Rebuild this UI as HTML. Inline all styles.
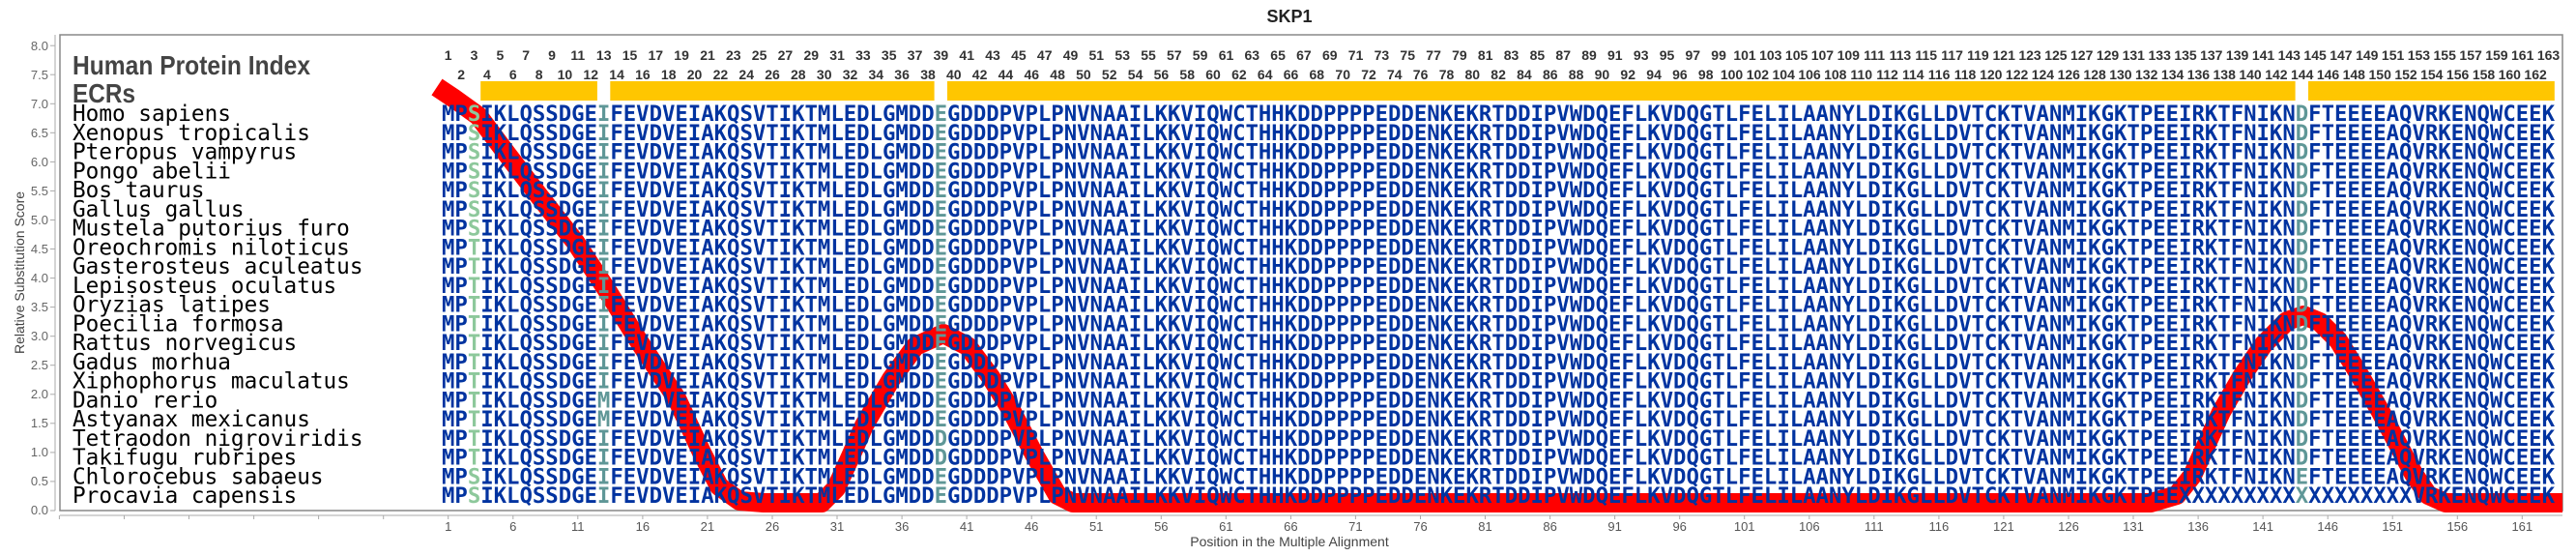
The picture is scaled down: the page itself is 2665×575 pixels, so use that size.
<!DOCTYPE html>
<html><head><meta charset="utf-8"><style>
html,body{margin:0;padding:0;background:#fff;}
svg{display:block;}
.yl{font-family:"Liberation Sans",sans-serif;font-size:13px;fill:#666;text-anchor:end;}
.xl{font-family:"Liberation Sans",sans-serif;font-size:13px;fill:#555;text-anchor:middle;}
.num{font-family:"Liberation Sans",sans-serif;font-size:14px;font-weight:bold;fill:#333;text-anchor:middle;}
.sp{font-family:"DejaVu Sans Mono","Liberation Mono",monospace;font-size:22.7px;fill:#000;}
.sq{font-family:"DejaVu Sans Mono","Liberation Mono",monospace;font-size:22.3px;font-weight:bold;fill:#0033a0;}
.g{fill:#8dc89b;} .t{fill:#5f9797;}
</style></head><body>
<svg width="2665" height="575" viewBox="0 0 2665 575" xmlns="http://www.w3.org/2000/svg">
<text x="1334" y="23" font-family="Liberation Sans,sans-serif" font-size="18" font-weight="bold" fill="#222" text-anchor="middle">SKP1</text>
<!-- frame & axes -->
<rect x="62" y="36" width="2589" height="492" fill="none" stroke="#888" stroke-width="1.5"/>
<line x1="57" y1="36" x2="57" y2="528" stroke="#aaa" stroke-width="1"/>
<line x1="62" y1="533" x2="2651" y2="533" stroke="#aaa" stroke-width="1"/>
<g stroke="#aaa" stroke-width="1">
<line x1="52" y1="528" x2="57" y2="528"/><line x1="52" y1="497.9" x2="57" y2="497.9"/><line x1="52" y1="467.9" x2="57" y2="467.9"/><line x1="52" y1="437.8" x2="57" y2="437.8"/><line x1="52" y1="407.8" x2="57" y2="407.8"/><line x1="52" y1="377.7" x2="57" y2="377.7"/><line x1="52" y1="347.7" x2="57" y2="347.7"/><line x1="52" y1="317.6" x2="57" y2="317.6"/><line x1="52" y1="287.6" x2="57" y2="287.6"/><line x1="52" y1="257.5" x2="57" y2="257.5"/><line x1="52" y1="227.5" x2="57" y2="227.5"/><line x1="52" y1="197.4" x2="57" y2="197.4"/><line x1="52" y1="167.4" x2="57" y2="167.4"/><line x1="52" y1="137.3" x2="57" y2="137.3"/><line x1="52" y1="107.3" x2="57" y2="107.3"/><line x1="52" y1="77.2" x2="57" y2="77.2"/><line x1="52" y1="47.2" x2="57" y2="47.2"/>
</g>
<g class="yl">
<text x="50" y="532">0.0</text><text x="50" y="502">0.5</text><text x="50" y="472">1.0</text><text x="50" y="442">1.5</text><text x="50" y="412">2.0</text><text x="50" y="382">2.5</text><text x="50" y="352">3.0</text><text x="50" y="322">3.5</text><text x="50" y="292">4.0</text><text x="50" y="262">4.5</text><text x="50" y="232">5.0</text><text x="50" y="202">5.5</text><text x="50" y="172">6.0</text><text x="50" y="142">6.5</text><text x="50" y="112">7.0</text><text x="50" y="82">7.5</text><text x="50" y="52">8.0</text>
</g>
<text transform="translate(25,282) rotate(-90)" font-family="Liberation Sans,sans-serif" font-size="14" fill="#444" text-anchor="middle">Relative Substitution Score</text>
<!-- x ticks -->
<g stroke="#aaa" stroke-width="1">
<line x1="61.4" y1="533" x2="61.4" y2="537"/><line x1="128.5" y1="533" x2="128.5" y2="537"/><line x1="195.5" y1="533" x2="195.5" y2="537"/><line x1="262.6" y1="533" x2="262.6" y2="537"/><line x1="329.6" y1="533" x2="329.6" y2="537"/><line x1="396.7" y1="533" x2="396.7" y2="537"/>
<line x1="463.7" y1="533" x2="463.7" y2="537"/><line x1="530.8" y1="533" x2="530.8" y2="537"/><line x1="597.8" y1="533" x2="597.8" y2="537"/><line x1="664.9" y1="533" x2="664.9" y2="537"/><line x1="731.9" y1="533" x2="731.9" y2="537"/><line x1="799.0" y1="533" x2="799.0" y2="537"/><line x1="866.0" y1="533" x2="866.0" y2="537"/><line x1="933.1" y1="533" x2="933.1" y2="537"/><line x1="1000.1" y1="533" x2="1000.1" y2="537"/><line x1="1067.2" y1="533" x2="1067.2" y2="537"/><line x1="1134.2" y1="533" x2="1134.2" y2="537"/><line x1="1201.3" y1="533" x2="1201.3" y2="537"/><line x1="1268.3" y1="533" x2="1268.3" y2="537"/><line x1="1335.4" y1="533" x2="1335.4" y2="537"/><line x1="1402.4" y1="533" x2="1402.4" y2="537"/><line x1="1469.5" y1="533" x2="1469.5" y2="537"/><line x1="1536.5" y1="533" x2="1536.5" y2="537"/><line x1="1603.6" y1="533" x2="1603.6" y2="537"/><line x1="1670.6" y1="533" x2="1670.6" y2="537"/><line x1="1737.7" y1="533" x2="1737.7" y2="537"/><line x1="1804.7" y1="533" x2="1804.7" y2="537"/><line x1="1871.8" y1="533" x2="1871.8" y2="537"/><line x1="1938.8" y1="533" x2="1938.8" y2="537"/><line x1="2005.9" y1="533" x2="2005.9" y2="537"/><line x1="2072.9" y1="533" x2="2072.9" y2="537"/><line x1="2140.0" y1="533" x2="2140.0" y2="537"/><line x1="2207.0" y1="533" x2="2207.0" y2="537"/><line x1="2274.1" y1="533" x2="2274.1" y2="537"/><line x1="2341.1" y1="533" x2="2341.1" y2="537"/><line x1="2408.2" y1="533" x2="2408.2" y2="537"/><line x1="2475.2" y1="533" x2="2475.2" y2="537"/><line x1="2542.3" y1="533" x2="2542.3" y2="537"/><line x1="2609.3" y1="533" x2="2609.3" y2="537"/>
</g>
<g class="xl">
<text x="463.7" y="549">1</text><text x="530.8" y="549">6</text><text x="597.8" y="549">11</text><text x="664.9" y="549">16</text><text x="731.9" y="549">21</text><text x="799.0" y="549">26</text><text x="866.0" y="549">31</text><text x="933.1" y="549">36</text><text x="1000.1" y="549">41</text><text x="1067.2" y="549">46</text><text x="1134.2" y="549">51</text><text x="1201.3" y="549">56</text><text x="1268.3" y="549">61</text><text x="1335.4" y="549">66</text><text x="1402.4" y="549">71</text><text x="1469.5" y="549">76</text><text x="1536.5" y="549">81</text><text x="1603.6" y="549">86</text><text x="1670.6" y="549">91</text><text x="1737.7" y="549">96</text><text x="1804.7" y="549">101</text><text x="1871.8" y="549">106</text><text x="1938.8" y="549">111</text><text x="2005.9" y="549">116</text><text x="2072.9" y="549">121</text><text x="2140.0" y="549">126</text><text x="2207.0" y="549">131</text><text x="2274.1" y="549">136</text><text x="2341.1" y="549">141</text><text x="2408.2" y="549">146</text><text x="2475.2" y="549">151</text><text x="2542.3" y="549">156</text><text x="2609.3" y="549">161</text>
</g>
<text x="1334" y="565" font-family="Liberation Sans,sans-serif" font-size="14" fill="#444" text-anchor="middle">Position in the Multiple Alignment</text>

<!-- headers -->
<text x="75" y="77" font-family="Liberation Sans,sans-serif" font-size="28" font-weight="bold" fill="#444" textLength="246" lengthAdjust="spacingAndGlyphs">Human Protein Index</text>
<text x="75" y="106" font-family="Liberation Sans,sans-serif" font-size="28" font-weight="bold" fill="#444" textLength="65" lengthAdjust="spacingAndGlyphs">ECRs</text>

<!-- position numbers -->
<g class="num">
<text y="62" x="463.7 490.5 517.4 544.2 571.0 597.8 624.7 651.5 678.3 705.1 732.0 758.8 785.6 812.4 839.3 866.1 892.9 919.7 946.6 973.4 1000.2 1027.0 1053.9 1080.7 1107.5 1134.3 1161.2 1188.0 1214.8 1241.6 1268.5 1295.3 1322.1 1348.9 1375.8 1402.6 1429.4 1456.2 1483.1 1509.9 1536.7 1563.5 1590.4 1617.2 1644.0 1670.8 1697.7 1724.5 1751.3 1778.1 1805.0 1831.8 1858.6 1885.4 1912.3 1939.1 1965.9 1992.7 2019.6 2046.4 2073.2 2100.0 2126.9 2153.7 2180.5 2207.3 2234.2 2261.0 2287.8 2314.6 2341.5 2368.3 2395.1 2421.9 2448.8 2475.6 2502.4 2529.2 2556.1 2582.9 2609.7"></text>
</g>
<g class="num">
<text x="463.7" y="62">1</text><text x="490.5" y="62">3</text><text x="517.4" y="62">5</text><text x="544.2" y="62">7</text><text x="571.0" y="62">9</text><text x="597.8" y="62">11</text><text x="624.7" y="62">13</text><text x="651.5" y="62">15</text><text x="678.3" y="62">17</text><text x="705.1" y="62">19</text><text x="732.0" y="62">21</text><text x="758.8" y="62">23</text><text x="785.6" y="62">25</text><text x="812.4" y="62">27</text><text x="839.3" y="62">29</text><text x="866.1" y="62">31</text><text x="892.9" y="62">33</text><text x="919.7" y="62">35</text><text x="946.6" y="62">37</text><text x="973.4" y="62">39</text><text x="1000.2" y="62">41</text><text x="1027.0" y="62">43</text><text x="1053.9" y="62">45</text><text x="1080.7" y="62">47</text><text x="1107.5" y="62">49</text><text x="1134.3" y="62">51</text><text x="1161.2" y="62">53</text><text x="1188.0" y="62">55</text><text x="1214.8" y="62">57</text><text x="1241.6" y="62">59</text><text x="1268.5" y="62">61</text><text x="1295.3" y="62">63</text><text x="1322.1" y="62">65</text><text x="1348.9" y="62">67</text><text x="1375.8" y="62">69</text><text x="1402.6" y="62">71</text><text x="1429.4" y="62">73</text><text x="1456.2" y="62">75</text><text x="1483.1" y="62">77</text><text x="1509.9" y="62">79</text><text x="1536.7" y="62">81</text><text x="1563.5" y="62">83</text><text x="1590.4" y="62">85</text><text x="1617.2" y="62">87</text><text x="1644.0" y="62">89</text><text x="1670.8" y="62">91</text><text x="1697.7" y="62">93</text><text x="1724.5" y="62">95</text><text x="1751.3" y="62">97</text><text x="1778.1" y="62">99</text><text x="1805.0" y="62">101</text><text x="1831.8" y="62">103</text><text x="1858.6" y="62">105</text><text x="1885.4" y="62">107</text><text x="1912.3" y="62">109</text><text x="1939.1" y="62">111</text><text x="1965.9" y="62">113</text><text x="1992.7" y="62">115</text><text x="2019.6" y="62">117</text><text x="2046.4" y="62">119</text><text x="2073.2" y="62">121</text><text x="2100.0" y="62">123</text><text x="2126.9" y="62">125</text><text x="2153.7" y="62">127</text><text x="2180.5" y="62">129</text><text x="2207.3" y="62">131</text><text x="2234.2" y="62">133</text><text x="2261.0" y="62">135</text><text x="2287.8" y="62">137</text><text x="2314.6" y="62">139</text><text x="2341.5" y="62">141</text><text x="2368.3" y="62">143</text><text x="2395.1" y="62">145</text><text x="2421.9" y="62">147</text><text x="2448.8" y="62">149</text><text x="2475.6" y="62">151</text><text x="2502.4" y="62">153</text><text x="2529.2" y="62">155</text><text x="2556.1" y="62">157</text><text x="2582.9" y="62">159</text><text x="2609.7" y="62">161</text><text x="2636.5" y="62">163</text>
<text x="477.1" y="82">2</text><text x="503.9" y="82">4</text><text x="530.8" y="82">6</text><text x="557.6" y="82">8</text><text x="584.4" y="82">10</text><text x="611.2" y="82">12</text><text x="638.1" y="82">14</text><text x="664.9" y="82">16</text><text x="691.7" y="82">18</text><text x="718.5" y="82">20</text><text x="745.4" y="82">22</text><text x="772.2" y="82">24</text><text x="799.0" y="82">26</text><text x="825.8" y="82">28</text><text x="852.7" y="82">30</text><text x="879.5" y="82">32</text><text x="906.3" y="82">34</text><text x="933.1" y="82">36</text><text x="960.0" y="82">38</text><text x="986.8" y="82">40</text><text x="1013.6" y="82">42</text><text x="1040.4" y="82">44</text><text x="1067.3" y="82">46</text><text x="1094.1" y="82">48</text><text x="1120.9" y="82">50</text><text x="1147.7" y="82">52</text><text x="1174.6" y="82">54</text><text x="1201.4" y="82">56</text><text x="1228.2" y="82">58</text><text x="1255.0" y="82">60</text><text x="1281.9" y="82">62</text><text x="1308.7" y="82">64</text><text x="1335.5" y="82">66</text><text x="1362.3" y="82">68</text><text x="1389.2" y="82">70</text><text x="1416.0" y="82">72</text><text x="1442.8" y="82">74</text><text x="1469.6" y="82">76</text><text x="1496.5" y="82">78</text><text x="1523.3" y="82">80</text><text x="1550.1" y="82">82</text><text x="1576.9" y="82">84</text><text x="1603.8" y="82">86</text><text x="1630.6" y="82">88</text><text x="1657.4" y="82">90</text><text x="1684.2" y="82">92</text><text x="1711.1" y="82">94</text><text x="1737.9" y="82">96</text><text x="1764.7" y="82">98</text><text x="1791.5" y="82">100</text><text x="1818.4" y="82">102</text><text x="1845.2" y="82">104</text><text x="1872.0" y="82">106</text><text x="1898.8" y="82">108</text><text x="1925.7" y="82">110</text><text x="1952.5" y="82">112</text><text x="1979.3" y="82">114</text><text x="2006.1" y="82">116</text><text x="2033.0" y="82">118</text><text x="2059.8" y="82">120</text><text x="2086.6" y="82">122</text><text x="2113.4" y="82">124</text><text x="2140.3" y="82">126</text><text x="2167.1" y="82">128</text><text x="2193.9" y="82">130</text><text x="2220.7" y="82">132</text><text x="2247.6" y="82">134</text><text x="2274.4" y="82">136</text><text x="2301.2" y="82">138</text><text x="2328.0" y="82">140</text><text x="2354.9" y="82">142</text><text x="2381.7" y="82">144</text><text x="2408.5" y="82">146</text><text x="2435.3" y="82">148</text><text x="2462.2" y="82">150</text><text x="2489.0" y="82">152</text><text x="2515.8" y="82">154</text><text x="2542.6" y="82">156</text><text x="2569.5" y="82">158</text><text x="2596.3" y="82">160</text><text x="2623.1" y="82">162</text>
</g>

<!-- ECR bars -->
<g fill="#ffc600">
<rect x="497.2" y="84" width="120.7" height="20"/>
<rect x="631.3" y="84" width="335.3" height="20"/>
<rect x="980.0" y="84" width="1394.6" height="20"/>
<rect x="2388.0" y="84" width="254.8" height="20"/>
</g>

<!-- red line -->
<polyline fill="none" stroke="#ff0000" stroke-width="20" stroke-linejoin="round" stroke-linecap="butt"
points="452,90 470,102 495,120 525,160 558,203 595,250 626,297 661,353 700,412 726,468 744,503 765,518 790,520 850,520 865,505 880,472 894,440 922,392 947,358 976,345 1001,358 1025,390 1046,424 1070,470 1094,512 1110,520 2225,520 2252,512 2268,492 2298,426 2320,388 2342,356 2366,332 2383,326 2400,333 2419,352 2440,386 2463,426 2480,458 2497,490 2512,512 2530,520 2651,520"/>

<!-- species -->
<g class="sp">
<text x="75" y="125">Homo sapiens</text>
<text x="75" y="144.75">Xenopus tropicalis</text>
<text x="75" y="164.5">Pteropus vampyrus</text>
<text x="75" y="184.25">Pongo abelii</text>
<text x="75" y="204">Bos taurus</text>
<text x="75" y="223.75">Gallus gallus</text>
<text x="75" y="243.5">Mustela putorius furo</text>
<text x="75" y="263.25">Oreochromis niloticus</text>
<text x="75" y="283">Gasterosteus aculeatus</text>
<text x="75" y="302.75">Lepisosteus oculatus</text>
<text x="75" y="322.5">Oryzias latipes</text>
<text x="75" y="342.25">Poecilia formosa</text>
<text x="75" y="362">Rattus norvegicus</text>
<text x="75" y="381.75">Gadus morhua</text>
<text x="75" y="401.5">Xiphophorus maculatus</text>
<text x="75" y="421.25">Danio rerio</text>
<text x="75" y="441">Astyanax mexicanus</text>
<text x="75" y="460.75">Tetraodon nigroviridis</text>
<text x="75" y="480.5">Takifugu rubripes</text>
<text x="75" y="500.25">Chlorocebus sabaeus</text>
<text x="75" y="520">Procavia capensis</text>
</g>

<!-- sequences -->
<g class="sq">
<text x="457" y="125" textLength="2186" lengthAdjust="spacing">MP<tspan class="g">S</tspan>IKLQSSDGE<tspan class="t">I</tspan>FEVDVEIAKQSVTIKTMLEDLGMDD<tspan class="t">E</tspan>GDDDPVPLPNVNAAILKKVIQWCTHHKDDPPPPEDDENKEKRTDDIPVWDQEFLKVDQGTLFELILAANYLDIKGLLDVTCKTVANMIKGKTPEEIRKTFNIKN<tspan class="t">D</tspan>FTEEEEAQVRKENQWCEEK</text>
<text x="457" y="144.75" textLength="2186" lengthAdjust="spacing">MP<tspan class="g">S</tspan>IKLQSSDGE<tspan class="t">I</tspan>FEVDVEIAKQSVTIKTMLEDLGMDD<tspan class="t">E</tspan>GDDDPVPLPNVNAAILKKVIQWCTHHKDDPPPPEDDENKEKRTDDIPVWDQEFLKVDQGTLFELILAANYLDIKGLLDVTCKTVANMIKGKTPEEIRKTFNIKN<tspan class="t">D</tspan>FTEEEEAQVRKENQWCEEK</text>
<text x="457" y="164.5" textLength="2186" lengthAdjust="spacing">MP<tspan class="g">S</tspan>IKLQSSDGE<tspan class="t">I</tspan>FEVDVEIAKQSVTIKTMLEDLGMDD<tspan class="t">E</tspan>GDDDPVPLPNVNAAILKKVIQWCTHHKDDPPPPEDDENKEKRTDDIPVWDQEFLKVDQGTLFELILAANYLDIKGLLDVTCKTVANMIKGKTPEEIRKTFNIKN<tspan class="t">D</tspan>FTEEEEAQVRKENQWCEEK</text>
<text x="457" y="184.25" textLength="2186" lengthAdjust="spacing">MP<tspan class="g">S</tspan>IKLQSSDGE<tspan class="t">I</tspan>FEVDVEIAKQSVTIKTMLEDLGMDD<tspan class="t">E</tspan>GDDDPVPLPNVNAAILKKVIQWCTHHKDDPPPPEDDENKEKRTDDIPVWDQEFLKVDQGTLFELILAANYLDIKGLLDVTCKTVANMIKGKTPEEIRKTFNIKN<tspan class="t">D</tspan>FTEEEEAQVRKENQWCEEK</text>
<text x="457" y="204" textLength="2186" lengthAdjust="spacing">MP<tspan class="g">S</tspan>IKLQSSDGE<tspan class="t">I</tspan>FEVDVEIAKQSVTIKTMLEDLGMDD<tspan class="t">E</tspan>GDDDPVPLPNVNAAILKKVIQWCTHHKDDPPPPEDDENKEKRTDDIPVWDQEFLKVDQGTLFELILAANYLDIKGLLDVTCKTVANMIKGKTPEEIRKTFNIKN<tspan class="t">D</tspan>FTEEEEAQVRKENQWCEEK</text>
<text x="457" y="223.75" textLength="2186" lengthAdjust="spacing">MP<tspan class="g">S</tspan>IKLQSSDGE<tspan class="t">I</tspan>FEVDVEIAKQSVTIKTMLEDLGMDD<tspan class="t">E</tspan>GDDDPVPLPNVNAAILKKVIQWCTHHKDDPPPPEDDENKEKRTDDIPVWDQEFLKVDQGTLFELILAANYLDIKGLLDVTCKTVANMIKGKTPEEIRKTFNIKN<tspan class="t">D</tspan>FTEEEEAQVRKENQWCEEK</text>
<text x="457" y="243.5" textLength="2186" lengthAdjust="spacing">MP<tspan class="g">S</tspan>IKLQSSDGE<tspan class="t">I</tspan>FEVDVEIAKQSVTIKTMLEDLGMDD<tspan class="t">E</tspan>GDDDPVPLPNVNAAILKKVIQWCTHHKDDPPPPEDDENKEKRTDDIPVWDQEFLKVDQGTLFELILAANYLDIKGLLDVTCKTVANMIKGKTPEEIRKTFNIKN<tspan class="t">D</tspan>FTEEEEAQVRKENQWCEEK</text>
<text x="457" y="263.25" textLength="2186" lengthAdjust="spacing">MP<tspan class="g">T</tspan>IKLQSSDGE<tspan class="t">I</tspan>FEVDVEIAKQSVTIKTMLEDLGMDD<tspan class="t">E</tspan>GDDDPVPLPNVNAAILKKVIQWCTHHKDDPPPPEDDENKEKRTDDIPVWDQEFLKVDQGTLFELILAANYLDIKGLLDVTCKTVANMIKGKTPEEIRKTFNIKN<tspan class="t">D</tspan>FTEEEEAQVRKENQWCEEK</text>
<text x="457" y="283" textLength="2186" lengthAdjust="spacing">MP<tspan class="g">T</tspan>IKLQSSDGE<tspan class="t">I</tspan>FEVDVEIAKQSVTIKTMLEDLGMDD<tspan class="t">E</tspan>GDDDPVPLPNVNAAILKKVIQWCTHHKDDPPPPEDDENKEKRTDDIPVWDQEFLKVDQGTLFELILAANYLDIKGLLDVTCKTVANMIKGKTPEEIRKTFNIKN<tspan class="t">D</tspan>FTEEEEAQVRKENQWCEEK</text>
<text x="457" y="302.75" textLength="2186" lengthAdjust="spacing">MP<tspan class="g">T</tspan>IKLQSSDGE<tspan class="t">I</tspan>FEVDVEIAKQSVTIKTMLEDLGMDD<tspan class="t">E</tspan>GDDDPVPLPNVNAAILKKVIQWCTHHKDDPPPPEDDENKEKRTDDIPVWDQEFLKVDQGTLFELILAANYLDIKGLLDVTCKTVANMIKGKTPEEIRKTFNIKN<tspan class="t">D</tspan>FTEEEEAQVRKENQWCEEK</text>
<text x="457" y="322.5" textLength="2186" lengthAdjust="spacing">MP<tspan class="g">T</tspan>IKLQSSDGE<tspan class="t">I</tspan>FEVDVEIAKQSVTIKTMLEDLGMDD<tspan class="t">E</tspan>GDDDPVPLPNVNAAILKKVIQWCTHHKDDPPPPEDDENKEKRTDDIPVWDQEFLKVDQGTLFELILAANYLDIKGLLDVTCKTVANMIKGKTPEEIRKTFNIKN<tspan class="t">D</tspan>FTEEEEAQVRKENQWCEEK</text>
<text x="457" y="342.25" textLength="2186" lengthAdjust="spacing">MP<tspan class="g">T</tspan>IKLQSSDGE<tspan class="t">I</tspan>FEVDVEIAKQSVTIKTMLEDLGMDD<tspan class="t">E</tspan>GDDDPVPLPNVNAAILKKVIQWCTHHKDDPPPPEDDENKEKRTDDIPVWDQEFLKVDQGTLFELILAANYLDIKGLLDVTCKTVANMIKGKTPEEIRKTFNIKN<tspan class="t">D</tspan>FTEEEEAQVRKENQWCEEK</text>
<text x="457" y="362" textLength="2186" lengthAdjust="spacing">MP<tspan class="g">T</tspan>IKLQSSDGE<tspan class="t">I</tspan>FEVDVEIAKQSVTIKTMLEDLGMDD<tspan class="t">E</tspan>GDDDPVPLPNVNAAILKKVIQWCTHHKDDPPPPEDDENKEKRTDDIPVWDQEFLKVDQGTLFELILAANYLDIKGLLDVTCKTVANMIKGKTPEEIRKTFNIKN<tspan class="t">D</tspan>FTEEEEAQVRKENQWCEEK</text>
<text x="457" y="381.75" textLength="2186" lengthAdjust="spacing">MP<tspan class="g">T</tspan>IKLQSSDGE<tspan class="t">I</tspan>FEVDVEIAKQSVTIKTMLEDLGMDD<tspan class="t">E</tspan>GDDDPVPLPNVNAAILKKVIQWCTHHKDDPPPPEDDENKEKRTDDIPVWDQEFLKVDQGTLFELILAANYLDIKGLLDVTCKTVANMIKGKTPEEIRKTFNIKN<tspan class="t">D</tspan>FTEEEEAQVRKENQWCEEK</text>
<text x="457" y="401.5" textLength="2186" lengthAdjust="spacing">MP<tspan class="g">T</tspan>IKLQSSDGE<tspan class="t">I</tspan>FEVDVEIAKQSVTIKTMLEDLGMDD<tspan class="t">E</tspan>GDDDPVPLPNVNAAILKKVIQWCTHHKDDPPPPEDDENKEKRTDDIPVWDQEFLKVDQGTLFELILAANYLDIKGLLDVTCKTVANMIKGKTPEEIRKTFNIKN<tspan class="t">D</tspan>FTEEEEAQVRKENQWCEEK</text>
<text x="457" y="421.25" textLength="2186" lengthAdjust="spacing">MP<tspan class="g">T</tspan>IKLQSSDGE<tspan class="t">M</tspan>FEVDVEIAKQSVTIKTMLEDLGMDD<tspan class="t">E</tspan>GDDDPVPLPNVNAAILKKVIQWCTHHKDDPPPPEDDENKEKRTDDIPVWDQEFLKVDQGTLFELILAANYLDIKGLLDVTCKTVANMIKGKTPEEIRKTFNIKN<tspan class="t">D</tspan>FTEEEEAQVRKENQWCEEK</text>
<text x="457" y="441" textLength="2186" lengthAdjust="spacing">MP<tspan class="g">T</tspan>IKLQSSDGE<tspan class="t">M</tspan>FEVDVEIAKQSVTIKTMLEDLGMDD<tspan class="t">E</tspan>GDDDPVPLPNVNAAILKKVIQWCTHHKDDPPPPEDDENKEKRTDDIPVWDQEFLKVDQGTLFELILAANYLDIKGLLDVTCKTVANMIKGKTPEEIRKTFNIKN<tspan class="t">D</tspan>FTEEEEAQVRKENQWCEEK</text>
<text x="457" y="460.75" textLength="2186" lengthAdjust="spacing">MP<tspan class="g">T</tspan>IKLQSSDGE<tspan class="t">I</tspan>FEVDVEIAKQSVTIKTMLEDLGMDD<tspan class="t">D</tspan>GDDDPVPLPNVNAAILKKVIQWCTHHKDDPPPPEDDENKEKRTDDIPVWDQEFLKVDQGTLFELILAANYLDIKGLLDVTCKTVANMIKGKTPEEIRKTFNIKN<tspan class="t">D</tspan>FTEEEEAQVRKENQWCEEK</text>
<text x="457" y="480.5" textLength="2186" lengthAdjust="spacing">MP<tspan class="g">T</tspan>IKLQSSDGE<tspan class="t">I</tspan>FEVDVEIAKQSVTIKTMLEDLGMDD<tspan class="t">D</tspan>GDDDPVPLPNVNAAILKKVIQWCTHHKDDPPPPEDDENKEKRTDDIPVWDQEFLKVDQGTLFELILAANYLDIKGLLDVTCKTVANMIKGKTPEEIRKTFNIKN<tspan class="t">D</tspan>FTEEEEAQVRKENQWCEEK</text>
<text x="457" y="500.25" textLength="2186" lengthAdjust="spacing">MP<tspan class="g">S</tspan>IKLQSSDGE<tspan class="t">I</tspan>FEVDVEIAKQSVTIKTMLEDLGMDD<tspan class="t">E</tspan>GDDDPVPLPNVNAAILKKVIQWCTHHKDDPPPPEDDENKEKRTDDIPVWDQEFLKVDQGTLFELILAANYLDIKGLLDVTCKTVANMIKGKTPEEIRKTFNIKN<tspan class="t">E</tspan>FTEEEEAQVRKENQWCEEK</text>
<text x="457" y="520" textLength="2186" lengthAdjust="spacing">MP<tspan class="g">S</tspan>IKLQSSDGE<tspan class="t">I</tspan>FEVDVEIAKQSVTIKTMLEDLGMDD<tspan class="t">E</tspan>GDDDPVPLPNVNAAILKKVIQWCTHHKDDPPPPEDDENKEKRTDDIPVWDQEFLKVDQGTLFELILAANYLDIKGLLDVTCKTVANMIKGKTPEEXXXXXXXXX<tspan class="t">X</tspan>XXXXXXXXVRKENQWCEEK</text>
</g>
</svg>
</body></html>
